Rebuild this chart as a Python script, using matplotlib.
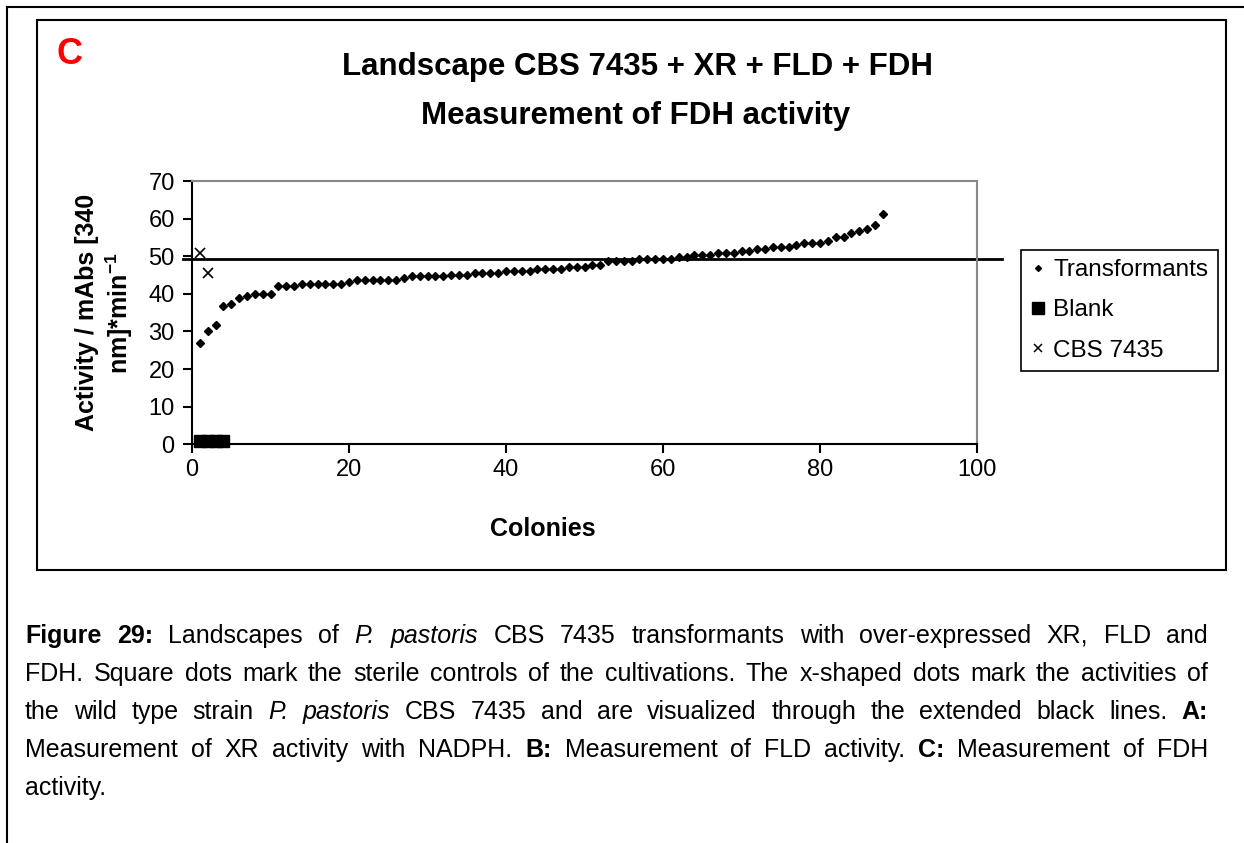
import matplotlib
matplotlib.use("Agg")
import matplotlib.pyplot as plt
from matplotlib.lines import Line2D
from matplotlib.patches import Rectangle

plt.rcParams['font.family'] = ['Liberation Sans', 'DejaVu Sans']
plt.rcParams['mathtext.fontset'] = 'custom'
plt.rcParams['mathtext.rm'] = 'Liberation Sans'
plt.rcParams['mathtext.bf'] = 'Liberation Sans:bold'
plt.rcParams['mathtext.it'] = 'Liberation Sans:italic'

# FDH activity of the transformants, sorted
transformant_activity = [
    27.0, 30.0, 31.7, 36.9, 37.4, 38.9, 39.4, 40.0, 40.0, 40.0,
    42.0, 42.0, 42.0, 42.5, 42.5, 42.5, 42.5, 42.5, 42.5, 43.1,
    43.6, 43.6, 43.6, 43.6, 43.6, 43.6, 44.1, 44.7, 44.7, 44.7,
    44.7, 44.7, 45.1, 45.1, 45.1, 45.6, 45.6, 45.6, 45.6, 46.2,
    46.2, 46.2, 46.2, 46.7, 46.7, 46.7, 46.7, 47.2, 47.2, 47.2,
    47.8, 47.8, 48.8, 48.8, 48.8, 48.8, 49.3, 49.3, 49.3, 49.3,
    49.3, 49.9, 49.9, 50.4, 50.4, 50.4, 50.9, 50.9, 50.9, 51.5,
    51.5, 52.0, 52.0, 52.5, 52.5, 52.5, 53.0, 53.5, 53.5, 53.5,
    54.1, 55.1, 55.1, 56.1, 56.6, 57.2, 58.2, 61.3,
]
colonies = list(range(1, len(transformant_activity) + 1))

blank_x = [1, 2, 3, 4]
blank_activity = [1.0, 1.0, 1.0, 1.0]

cbs_x = [1, 2]
cbs_activity = [50.8, 45.5]

wild_type_level = 49.3
line_start, line_end = -1.15, 103.2

x_ticks = [0, 20, 40, 60, 80, 100]
y_ticks = [0, 10, 20, 30, 40, 50, 60, 70]

caption = [
    "*Figure *29: Landscapes of _P. _pastoris CBS 7435 transformants with over-expressed XR, FLD and",
    "FDH. Square dots mark the sterile controls of the cultivations. The x-shaped dots mark the activities of",
    "the wild type strain _P. _pastoris CBS 7435 and are visualized through the extended black lines. *A:",
    "Measurement of XR activity with NADPH. *B: Measurement of FLD activity. *C: Measurement of FDH",
    "activity.",
]

W, H = 1244, 843


def fx(px):
    return px / W


def fy(py):
    return 1 - py / H


fig = plt.figure(figsize=(W / 100, H / 100), dpi=100)

# page / chart frames
fig.add_artist(Line2D([fx(7), fx(W)], [fy(7), fy(7)], color='black', lw=1.5, transform=fig.transFigure))
fig.add_artist(Line2D([fx(7), fx(7)], [fy(7), 0], color='black', lw=1.5, transform=fig.transFigure))
fig.add_artist(Rectangle((fx(37), fy(570)), (1226 - 37) / W, (570 - 20) / H, fill=False,
                         ec='black', lw=1.5, transform=fig.transFigure))

ax = fig.add_axes([fx(192), fy(444.3), (977 - 192) / W, (444.3 - 181) / H])

ax.plot(colonies, transformant_activity, ls='none', marker='D', ms=3.6, color='black', clip_on=False)
ax.plot(blank_x, blank_activity, ls='none', marker='s', ms=8, color='black', clip_on=False)
ax.plot(cbs_x, cbs_activity, ls='none', marker='x', ms=7, mew=1.2, color='black', clip_on=False)
ax.plot([line_start, line_end], [wild_type_level, wild_type_level], color='black', lw=2, clip_on=False)

ax.set_xlim(0, 100)
ax.set_ylim(0, 70)
ax.set_xticks(x_ticks)
ax.set_yticks(y_ticks)
ax.tick_params(axis='both', direction='out', length=6.5, width=1.5, labelsize=17, color='black')
ax.tick_params(axis='x', pad=4)
ax.tick_params(axis='y', pad=6)
for side in ['left', 'bottom']:
    ax.spines[side].set_linewidth(1.5)
    ax.spines[side].set_color('black')
for side in ['top', 'right']:
    ax.spines[side].set_linewidth(1.5)
    ax.spines[side].set_color('#888888')

ax.set_xlabel('Colonies', fontsize=18, fontweight='bold')
ax.xaxis.set_label_coords(0.447, -0.275)
ax.set_ylabel('Activity / mAbs [340\nnm]*min$^{\\mathbf{-1}}$', fontsize=18, fontweight='bold')
ax.yaxis.set_label_coords(-0.072, 0.5)

handles = [
    Line2D([], [], ls='none', marker='D', ms=3, color='black'),
    Line2D([], [], ls='none', marker='s', ms=8, color='black'),
    Line2D([], [], ls='none', marker='x', ms=6, mew=1.1, color='black'),
]
leg = ax.legend(handles, ['Transformants', 'Blank', 'CBS 7435'], loc='upper left',
                bbox_to_anchor=(fx(1021), fy(250)), bbox_transform=fig.transFigure,
                fontsize=17.5, frameon=True, fancybox=False, framealpha=1, edgecolor='black',
                handlelength=0.6, handletextpad=0.35, labelspacing=0.75, borderpad=0.38,
                borderaxespad=0)
leg.get_frame().set_linewidth(1.2)

# titles
fig.text(fx(637), fy(67), 'Landscape CBS 7435 + XR + FLD + FDH', fontsize=22.5, fontweight='bold',
         ha='center', va='center')
fig.text(fx(636), fy(116), 'Measurement of FDH activity', fontsize=22.5, fontweight='bold',
         ha='center', va='center')
fig.text(fx(70), fy(55), 'C', fontsize=26, fontweight='bold', color='#ff0000', ha='center', va='center')

# justified caption below the chart
renderer = fig.canvas.get_renderer()
left_px, right_px = 25, 1208
caption_size = 18
baselines = [643, 681, 719, 757, 795]
for i, line in enumerate(caption):
    items = []
    for tok in line.split(' '):
        weight, style = 'normal', 'normal'
        if tok.startswith('*'):
            weight = 'bold'
            tok = tok[1:]
        elif tok.startswith('_'):
            style = 'italic'
            tok = tok[1:]
        t = fig.text(0, fy(baselines[i]), tok, fontsize=caption_size, fontweight=weight, fontstyle=style,
                     ha='left', va='baseline')
        items.append((t, t.get_window_extent(renderer).width))
    total = sum(w for _, w in items)
    if i < len(caption) - 1 and len(items) > 1:
        gap = (right_px - left_px - total) / (len(items) - 1)
    else:
        gap = 0.278 * caption_size * 100 / 72
    x = left_px
    for t, w in items:
        t.set_x(fx(x))
        x += w + gap

fig.savefig('out.png', dpi=100)
